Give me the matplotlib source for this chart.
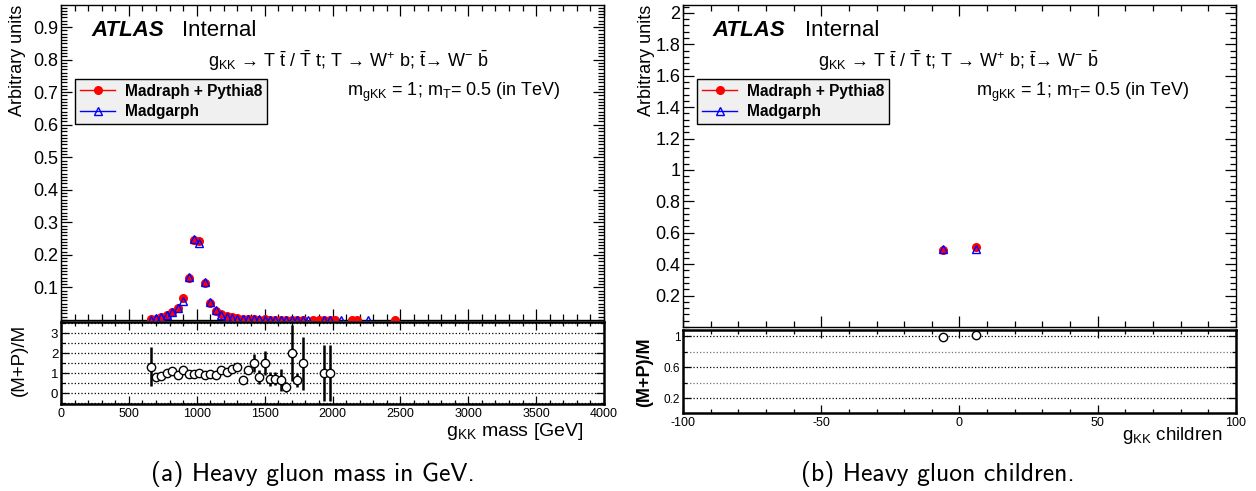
#!/usr/bin/env python3
#
# Heavy gluon (g_KK) validation plots: Madgraph vs Madgraph+Pythia8,
# mass and children pdg id, with ratio pads underneath.

import numpy as np
import matplotlib
matplotlib.use('Agg')
import matplotlib.pyplot as plt
from matplotlib.lines import Line2D
from matplotlib.ticker import MultipleLocator, FixedLocator, StrMethodFormatter

plt.rcParams['font.family'] = ['Liberation Sans', 'DejaVu Sans']
plt.rcParams['mathtext.fontset'] = 'custom'
plt.rcParams['mathtext.rm'] = 'Liberation Sans'
plt.rcParams['mathtext.it'] = 'Liberation Sans:italic'
plt.rcParams['mathtext.bf'] = 'Liberation Sans:bold'
plt.rcParams['axes.unicode_minus'] = False

nan = np.nan

# --- (a) g_KK mass, 40 GeV bins ---
mass = [660, 700, 740, 780, 820, 860, 900, 940, 980, 1020, 1060, 1100, 1140,
        1180, 1220, 1260, 1300, 1340, 1380, 1420, 1460, 1500, 1540, 1580,
        1620, 1660, 1700, 1740, 1780, 1820, 1860, 1900, 1940, 1980, 2020,
        2060, 2140, 2180, 2260, 2460]
mass_pythia = [0.002, 0.004, 0.009, 0.016, 0.026, 0.036, 0.068, 0.129, 0.247,
               0.243, 0.113, 0.053, 0.027, 0.017, 0.011, 0.008, 0.006, 0.003,
               0.0035, 0.003, 0.0015, 0.002, 0.001, 0.001, 0.0008, 0.0003,
               0.0008, 0.0003, 0.0006, nan, 0.0002, 0.0002, 0.0003, 0.0003,
               0.0002, nan, 0.0002, 0.0002, nan, 0.0002]
mass_madgraph = [0.0015, 0.005, 0.010, 0.016, 0.024, 0.036, 0.058, 0.131,
                 0.250, 0.236, 0.118, 0.055, 0.030, 0.015, 0.010, 0.007,
                 0.0045, 0.0045, 0.003, 0.002, 0.002, 0.0013, 0.0014, 0.0014,
                 0.0012, 0.001, 0.0004, 0.0005, 0.0004, 0.0003, nan, nan,
                 0.0003, 0.0003, nan, 0.0002, nan, nan, 0.0002, nan]

ratio_mass = [660, 700, 740, 780, 820, 860, 900, 940, 980, 1020, 1060, 1100,
              1140, 1180, 1220, 1260, 1300, 1340, 1380, 1420, 1460, 1500, 1540,
              1580, 1620, 1660, 1700, 1740, 1780, 1940, 1980]
ratio_val = [1.32, 0.83, 0.86, 1.0, 1.12, 0.91, 1.17, 0.98, 0.98, 1.03, 0.92,
             0.95, 0.90, 1.17, 1.07, 1.20, 1.32, 0.66, 1.17, 1.49, 0.81, 1.49,
             0.70, 0.73, 0.64, 0.30, 2.0, 0.66, 1.49, 1.0, 1.0]
ratio_err = [0.97, 0.05, 0.05, 0.04, 0.04, 0.03, 0.03, 0.02, 0.02, 0.02, 0.03,
             0.04, 0.05, 0.08, 0.10, 0.10, 0.15, 0.12, 0.20, 0.45, 0.37, 0.60,
             0.37, 0.33, 0.55, 0.25, 1.40, 0.35, 1.33, 1.40, 1.40]

# --- (b) g_KK children (pdg id) ---
children = [-6, 6]
child_pythia = [0.49, 0.51]
child_madgraph = [0.495, 0.495]
child_ratio = [0.985, 1.017]

W, H = 1256, 491


def fx(x):
    return x / W


def fy(y):
    return 1 - y / H


fig = plt.figure(figsize=(W / 100, H / 100), dpi=100)


def panel(x0, x1, ytop, ybot, lw):
    ax = fig.add_axes([fx(x0), fy(ybot), (x1 - x0) / W, (ybot - ytop) / H])
    for s in ax.spines.values():
        s.set_linewidth(lw)
    ax.tick_params(which='both', direction='in', top=True, right=True,
                   width=0.9, pad=2)
    return ax


axL = panel(61, 604, 5, 320, 1.0)
axLr = panel(61, 604, 322, 404, 1.8)
axR = panel(683, 1236, 5, 327, 1.0)
axRr = panel(683, 1236, 330, 413, 1.8)

fmt = StrMethodFormatter('{x:g}')

# main pads
for ax, x, p, m in [(axL, mass, mass_pythia, mass_madgraph),
                    (axR, children, child_pythia, child_madgraph)]:
    ax.plot(x, p, 'o', color='red', ms=5.5, zorder=3)
    ax.plot(x, m, '^', mfc='none', mec='blue', ms=6, mew=1, zorder=4)
    ax.tick_params(labelbottom=False, labelsize=13)
    ax.tick_params(which='major', length=8)
    ax.tick_params(which='minor', length=4)
    ax.yaxis.set_major_formatter(fmt)

axL.set_xlim(0, 4000)
axL.set_ylim(0, 0.968)
axL.xaxis.set_major_locator(MultipleLocator(500))
axL.xaxis.set_minor_locator(MultipleLocator(100))
axL.yaxis.set_major_locator(FixedLocator([0.1, 0.2, 0.3, 0.4, 0.5, 0.6, 0.7, 0.8, 0.9]))
axL.yaxis.set_minor_locator(MultipleLocator(0.01))

axR.set_xlim(-100, 100)
axR.set_ylim(0, 2.05)
axR.xaxis.set_major_locator(MultipleLocator(50))
axR.xaxis.set_minor_locator(MultipleLocator(10))
axR.yaxis.set_major_locator(FixedLocator([0.2, 0.4, 0.6, 0.8, 1.0, 1.2, 1.4, 1.6, 1.8, 2.0]))
axR.yaxis.set_minor_locator(MultipleLocator(0.04))

# ratio pads
axLr.errorbar(ratio_mass, ratio_val, yerr=ratio_err, fmt='o', mfc='white',
              mec='black', ms=6, mew=1, ecolor='black', elinewidth=1.8,
              capsize=0, zorder=3)
axLr.set_xlim(0, 4000)
axLr.set_ylim(-0.55, 3.57)
axLr.xaxis.set_major_locator(MultipleLocator(500))
axLr.xaxis.set_minor_locator(MultipleLocator(100))
axLr.yaxis.set_major_locator(FixedLocator([0, 1, 2, 3]))
axLr.yaxis.set_minor_locator(MultipleLocator(0.5))
axLr.grid(axis='y', which='both', ls=':', color='black', lw=0.9)

axRr.plot(children, child_ratio, 'o', mfc='white', mec='black', ms=6, mew=1,
          zorder=3)
axRr.set_xlim(-100, 100)
axRr.set_ylim(0.01, 1.08)
axRr.xaxis.set_major_locator(MultipleLocator(50))
axRr.xaxis.set_minor_locator(MultipleLocator(10))
axRr.yaxis.set_major_locator(FixedLocator([0.2, 0.6, 1.0]))
axRr.yaxis.set_minor_locator(MultipleLocator(0.2))
axRr.grid(axis='y', which='minor', ls=':', color='0.45', lw=0.9)
axRr.grid(axis='y', which='major', ls=':', color='black', lw=0.9)

for ax, ysize in [(axLr, 9.5), (axRr, 8.5)]:
    ax.set_axisbelow(True)
    ax.xaxis.set_major_formatter(fmt)
    ax.yaxis.set_major_formatter(fmt)
    ax.tick_params(axis='x', labelsize=9, pad=3)
    ax.tick_params(axis='y', labelsize=ysize)
    ax.tick_params(which='major', length=6)
    ax.tick_params(which='minor', length=3)

# axis titles
for x in (18, 646):
    fig.text(fx(x), fy(5), 'Arbitrary units', rotation=90, ha='center',
             va='top', fontsize=13)
fig.text(fx(19), fy(360), '(M+P)/M', rotation=90, ha='center', va='center',
         fontsize=13.5)
fig.text(fx(645), fy(372), '(M+P)/M', rotation=90, ha='center', va='center',
         fontsize=13, fontweight='bold')
fig.text(fx(584), fy(432), r'g$_{\mathrm{KK}}$ mass [GeV]', ha='right',
         va='center', fontsize=14)
fig.text(fx(1222), fy(435), r'g$_{\mathrm{KK}}$ children', ha='right',
         va='center', fontsize=13.5)

# labels inside pads
decay = (r'g$_{\mathrm{KK}}$ → T $\bar{\mathrm{t}}$ / $\bar{\mathrm{T}}$ t; '
         r'T → W$^{+}$ b; $\bar{\mathrm{t}}$→ W$^{-}$ $\bar{\mathrm{b}}$')
masses = r'm$_{\mathrm{gKK}}$ = 1; m$_{\mathrm{T}}$= 0.5 (in TeV)'
for atlas_x, int_x, dec_x, m_x in [(91, 182, 208, 347),
                                   (712, 805, 818, 976)]:
    fig.text(fx(atlas_x), fy(30), 'ATLAS', fontsize=16, fontweight='bold',
             fontstyle='italic', ha='left', va='center')
    fig.text(fx(int_x), fy(30), 'Internal', fontsize=16, ha='left',
             va='center')
    fig.text(fx(dec_x), fy(61), decay, fontsize=13, ha='left', va='center')
    fig.text(fx(m_x), fy(92), masses, fontsize=13, ha='left', va='center')

handles = [Line2D([], [], color='red', marker='o', ms=5.5, lw=1),
           Line2D([], [], color='blue', marker='^', mfc='none', mec='blue',
                  ms=6, mew=1, lw=1)]
labels = ['Madraph + Pythia8', 'Madgarph']
for ax, lx in [(axL, 75), (axR, 697)]:
    leg = ax.legend(handles, labels, loc='upper left',
                    bbox_to_anchor=(fx(lx), fy(79)),
                    bbox_transform=fig.transFigure, frameon=True,
                    fancybox=False, edgecolor='black', facecolor='#f0f0f0',
                    framealpha=1, prop={'weight': 'bold', 'size': 11.2},
                    handlelength=2.3, handletextpad=0.6, borderpad=0.3,
                    labelspacing=0.35, borderaxespad=0)
    leg.get_frame().set_linewidth(1.0)

# captions
fig.text(fx(313), fy(474), '(a) Heavy gluon mass in GeV.', family='cmss10',
         fontsize=18.5, ha='center', va='center')
fig.text(fx(938), fy(474), '(b) Heavy gluon children.', family='cmss10',
         fontsize=18.5, ha='center', va='center')

fig.savefig('out.png', dpi=100)
